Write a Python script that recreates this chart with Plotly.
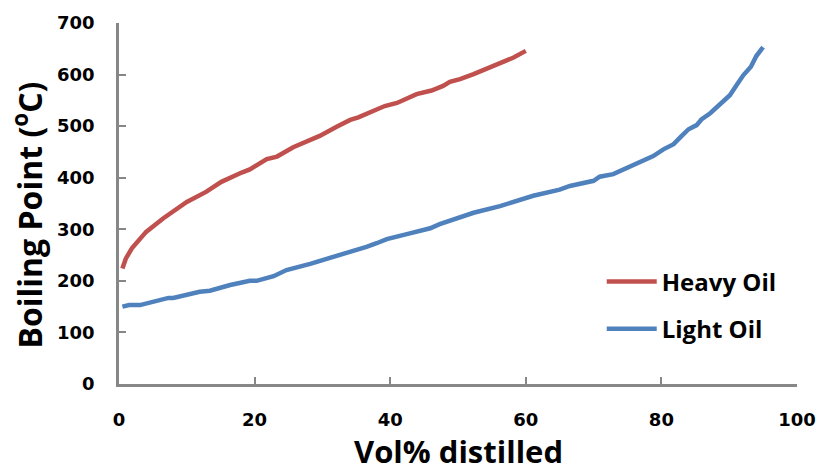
import plotly.graph_objects as go

# Data
heavy_x = [0.5, 1.0, 1.9, 4.0, 6.5, 10.0, 12.9, 15.1, 18.1, 19.3, 21.8, 23.3, 25.7, 28.2, 29.6,
           32.1, 34.1, 35.3, 37.5, 39.2, 41.0, 43.9, 46.1, 47.8, 48.8, 50.3, 52.3, 54.2, 57.2,
           58.2, 60.0]
heavy_y = [224, 243, 263, 295, 321, 353, 373, 392, 410, 416, 436, 441, 459, 474, 481,
           499, 512, 517, 529, 539, 545, 562, 569, 578, 586, 591, 601, 612, 629,
           633, 646]

light_x = [0.5, 1.5, 3.1, 7.3, 8.0, 11.9, 13.4, 16.4, 19.3, 20.3, 22.8, 24.7, 28.2, 31.1,
           33.1, 35.1, 36.5, 38.0, 39.5, 42.9, 45.9, 47.3, 50.8, 52.3, 56.2, 58.2, 61.1,
           65.0, 66.5, 70.0, 70.9, 72.9, 74.4, 75.9, 77.3, 78.8, 80.3, 81.8, 83.0, 84.0,
           85.2, 85.9, 87.2, 88.6, 90.1, 91.1, 92.1, 93.2, 94.0, 95.0]
light_y = [150, 153, 153, 167, 167, 179, 181, 192, 200, 200, 209, 221, 233, 244,
           253, 260, 266, 273, 281, 292, 302, 310, 324, 332, 345, 354, 365,
           377, 384, 394, 402, 407, 416, 425, 432, 442, 455, 465, 481, 494,
           502, 513, 525, 543, 560, 580, 599, 615, 636, 653]

x_ticks = [0, 20, 40, 60, 80, 100]
y_ticks = [0, 100, 200, 300, 400, 500, 600, 700]

x_title = "Vol% distilled"
y_title = "Boiling Point (<sup>o</sup>C)"

FONT = "Open Sans"
TICKFONT = "DejaVu Sans"
AXIS_GRAY = "#878787"

fig = go.Figure()
fig.add_trace(go.Scatter(x=heavy_x, y=heavy_y, mode="lines", name="Heavy Oil",
                         legendgroup="h",
                         line=dict(color="#C0504D", width=4.5)))
fig.add_trace(go.Scatter(x=light_x, y=light_y, mode="lines", name="Light Oil",
                         legendgroup="l",
                         line=dict(color="#4F81BD", width=4.5)))

fig.update_layout(
    width=817, height=473,
    margin=dict(l=119, r=20, t=23, b=89, autoexpand=False),
    paper_bgcolor="white", plot_bgcolor="white",
    font=dict(family=FONT, color="black"),
    showlegend=True,
    legend=dict(x=0.712, y=0.345, xanchor="left", yanchor="top",
                bgcolor="rgba(0,0,0,0)", borderwidth=0,
                font=dict(family=FONT, size=24, color="black", weight="bold"),
                tracegroupgap=13, itemwidth=50),
    xaxis=dict(
        range=[0, 100], tickmode="array", tickvals=x_ticks,
        automargin=False,
        showgrid=False, zeroline=False,
        showline=True, linecolor=AXIS_GRAY, linewidth=2.5,
        ticks="inside", ticklen=7, tickwidth=2, tickcolor=AXIS_GRAY,
        tickfont=dict(family=TICKFONT, size=18, color="black", weight="bold"),
        ticklabelstandoff=18,
    ),
    yaxis=dict(
        range=[0, 700], tickmode="array", tickvals=y_ticks,
        automargin=False,
        showgrid=False, zeroline=False,
        showline=True, linecolor=AXIS_GRAY, linewidth=2.5,
        ticks="inside", ticklen=7, tickwidth=2, tickcolor=AXIS_GRAY,
        tickfont=dict(family=TICKFONT, size=18, color="black", weight="bold"),
        ticklabelstandoff=18,
    ),
    annotations=[
        dict(text=y_title, textangle=-90,
             xref="paper", yref="paper", x=-0.135, y=0.468,
             xanchor="center", yanchor="middle", showarrow=False,
             font=dict(family=FONT, size=32, color="black", weight="bold")),
        dict(text=x_title,
             xref="paper", yref="paper", x=0.5, y=-0.2465,
             xanchor="center", yanchor="bottom", showarrow=False, borderpad=0,
             font=dict(family=FONT, size=31, color="black", weight="bold")),
    ],
)

fig.write_html("out.html", config={"displayModeBar": False},
               post_script="document.body.style.margin='0';")
